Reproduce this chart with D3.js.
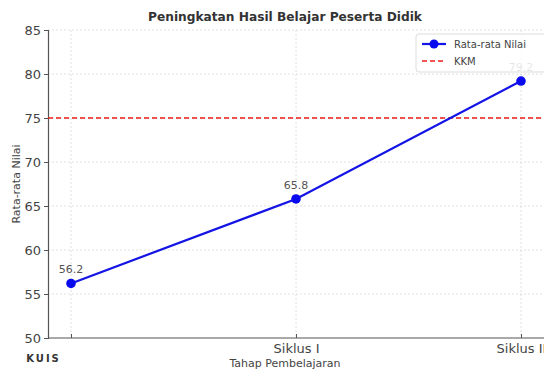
<!DOCTYPE html>
<html><head><meta charset="utf-8">
<script src="https://cdn.jsdelivr.net/npm/d3@7"></script>
<style>body{margin:0;background:#fff}svg{display:block}</style>
</head><body>
<svg id="c" width="544" height="370"></svg>
<script>
const categories = ["KUIS", "Siklus I", "Siklus II"];
const values = [56.2, 65.8, 79.2];
const kkm = 75;
const yTicks = [50, 55, 60, 65, 70, 75, 80, 85];
const title = "Peningkatan Hasil Belajar Peserta Didik";
const xTitle = "Tahap Pembelajaran";
const yTitle = "Rata-rata Nilai";
const legendLabels = ["Rata-rata Nilai", "KKM"];

(function () {
const svg = d3.select("#c");
const font = "DejaVu Sans, sans-serif";
const pL = 48, pR = 544, pT = 30, pB = 338;
const x = d3.scalePoint().domain(categories).range([71, 521]);
const y = d3.scaleLinear().domain([50, 85]).range([pB, pT]);

// grid
const g = svg.append("g");
g.selectAll(".hg").data(yTicks.slice(1)).enter().append("line")
  .attr("x1", pL).attr("x2", pR).attr("y1", d => y(d)).attr("y2", d => y(d))
  .attr("stroke", "#d8d8d8").attr("stroke-width", 0.8).attr("stroke-dasharray", "2,2");
g.selectAll(".vg").data(categories).enter().append("line")
  .attr("x1", d => x(d)).attr("x2", d => x(d)).attr("y1", pT).attr("y2", pB)
  .attr("stroke", "#d8d8d8").attr("stroke-width", 0.8).attr("stroke-dasharray", "2,2");

// axes
const ya = svg.append("g").attr("transform", `translate(${pL},0)`)
  .call(d3.axisLeft(y).tickValues(yTicks).tickSize(4).tickPadding(3));
ya.select(".domain").attr("stroke", "#555").attr("stroke-width", 1.2);
ya.selectAll(".tick line").attr("stroke", "#555");
ya.selectAll(".tick text").attr("font-family", font).attr("font-size", 13).attr("fill", "#444");

const xa = svg.append("g").attr("transform", `translate(0,${pB})`)
  .call(d3.axisBottom(x).tickSize(-4).tickPadding(6).tickSizeOuter(0));
xa.select(".domain").attr("d", `M${pL},0H${pR}`).attr("stroke", "#555").attr("stroke-width", 1.2);
xa.selectAll(".tick line").attr("stroke", "#555");
xa.selectAll(".tick text").attr("font-family", font).attr("font-size", 13).attr("fill", "#444");
// first category label shown bold and offset, as in the reference
xa.selectAll(".tick text").filter(d => d === categories[0])
  .attr("x", -28).attr("dy", "1.75em").attr("font-size", 10).attr("font-weight", "bold")
  .attr("letter-spacing", 2).attr("fill", "#333");

// KKM line
svg.append("line").attr("x1", pL).attr("x2", pR).attr("y1", y(kkm)).attr("y2", y(kkm))
  .attr("stroke", "#ee1c1c").attr("stroke-width", 1.6).attr("stroke-dasharray", "5,3");

// series line
svg.append("path").datum(values)
  .attr("d", d3.line().x((d, i) => x(categories[i])).y(d => y(d)))
  .attr("fill", "none").attr("stroke", "#1414e6").attr("stroke-width", 2.2);
svg.selectAll(".pt").data(values).enter().append("circle")
  .attr("cx", (d, i) => x(categories[i])).attr("cy", d => y(d)).attr("r", 4.8).attr("fill", "#0a0aee");
svg.selectAll(".lbl").data(values).enter().append("text")
  .attr("x", (d, i) => x(categories[i])).attr("y", d => y(d) - 10)
  .attr("text-anchor", "middle").attr("font-family", font).attr("font-size", 11).attr("fill", "#555")
  .text(d => d.toFixed(1));

// titles
svg.append("text").attr("x", 285).attr("y", 21).attr("text-anchor", "middle")
  .attr("font-family", font).attr("font-size", 12.2).attr("font-weight", "bold").attr("fill", "#333").text(title);
svg.append("text").attr("x", 285).attr("y", 367).attr("text-anchor", "middle")
  .attr("font-family", font).attr("font-size", 11).attr("fill", "#444").text(xTitle);
svg.append("text").attr("transform", `translate(20,${(pT + pB) / 2}) rotate(-90)`).attr("text-anchor", "middle")
  .attr("font-family", font).attr("font-size", 11).attr("fill", "#444").text(yTitle);

// legend
const lg = svg.append("g").attr("transform", "translate(416,34)");
lg.append("rect").attr("width", 130).attr("height", 38).attr("rx", 3)
  .attr("fill", "#fff").attr("fill-opacity", 0.85).attr("stroke", "#ddd");
lg.append("line").attr("x1", 6).attr("x2", 30).attr("y1", 10).attr("y2", 10).attr("stroke", "#1414e6").attr("stroke-width", 2.2);
lg.append("circle").attr("cx", 18).attr("cy", 10).attr("r", 4.5).attr("fill", "#0a0aee");
lg.append("line").attr("x1", 6).attr("x2", 30).attr("y1", 27).attr("y2", 27).attr("stroke", "#ee1c1c")
  .attr("stroke-width", 1.6).attr("stroke-dasharray", "5,3");
lg.selectAll(".lt").data(legendLabels).enter().append("text")
  .attr("x", 38).attr("y", (d, i) => 14 + i * 17).attr("font-family", font).attr("font-size", 10).attr("fill", "#444")
  .text(d => d);
})();
</script>
</body></html>
